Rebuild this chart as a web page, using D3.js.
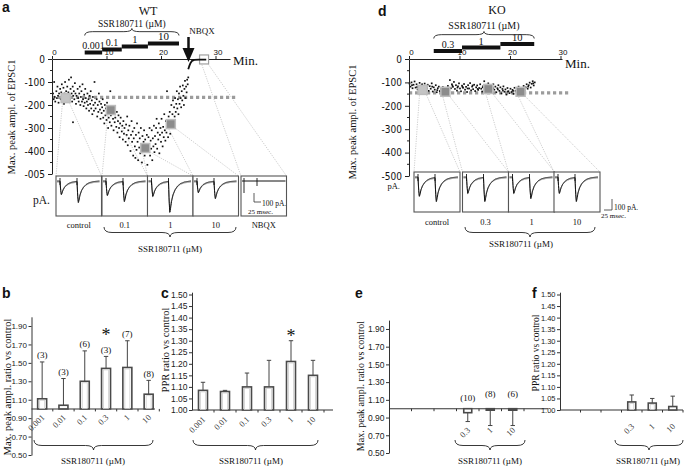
<!DOCTYPE html>
<html>
<head>
<meta charset="utf-8">
<script src="https://cdn.jsdelivr.net/npm/d3@7/dist/d3.min.js"></script>
<style>
html,body{margin:0;padding:0;background:#fff;}
svg{display:block;}
</style>
</head>
<body>
<svg id="chart" width="685" height="466"></svg>
<script>
// ================= DATA =================
const timeTicks = [0, 10, 20, 30];
const ampTicks = [0, -100, -200, -300, -400, -500];
const wtAmpTickLabels = ["0", "-100", "-200", "-300", "-400", "-005"];
const koAmpTickLabels = ["0", "-100", "-200", "-300", "-400", "-500"];

const wtDoseLabels = ["0.001", "0.1", "1", "10"];
const wtDoseStart = [6.0, 9.2, 12.8, 17.6];
const wtDoseEnd = [9.2, 12.8, 17.6, 23.3];
const koDoseLabels = ["0.3", "1", "10"];
const koDoseStart = [4.9, 10.5, 18.1];
const koDoseEnd = [10.5, 18.1, 24.8];

const wtControlLevel = -167;
const koControlLevel = -145;

const wtMeanT = [2.5, 10.8, 17.1, 21.8];
const wtMeanV = [-170, -222, -387, -283];
const wtNbqxMean = [27.9, -2];
const koMeanT = [2.7, 7.2, 15.7, 22.1];
const koMeanV = [-132, -140, -128, -140];

const wtPoints = [
[0.2,-150],[0.3,-175],[0.4,-100],[0.5,-165],[0.6,-185],[0.8,-140],[0.9,-170],[1.0,-120],[1.1,-160],[1.2,-190],[1.3,-150],[1.5,-130],[1.6,-175],[1.7,-145],[1.8,-110],[1.9,-160],
[2.0,-170],[2.1,-125],[2.2,-195],[2.3,-150],[2.4,-100],[2.5,-160],[2.6,-140],[2.7,-180],[2.8,-120],[2.9,-165],[3.0,-145],[3.1,-90],[3.2,-155],[3.3,-175],[3.4,-130],[3.5,-80],[3.6,-150],[3.7,-185],[3.8,-120],[3.9,-160],[4.0,-140],
[4.1,-175],[4.2,-105],[4.3,-150],[4.4,-195],[4.5,-160],[3.85,-275],[4.7,-130],[4.8,-170],[4.9,-185],[5.0,-150],[5.1,-120],[5.2,-200],[5.3,-165],[5.4,-140],[5.5,-185],[5.6,-110],[5.7,-175],[5.8,-205],[5.9,-155],[6.0,-190],
[6.1,-130],[6.2,-170],[6.3,-215],[6.4,-185],[6.5,-150],[6.6,-200],[6.7,-175],[6.8,-225],[6.9,-160],[7.0,-195],[7.1,-140],[7.2,-215],[7.3,-180],[7.4,-240],[7.5,-165],[7.6,-200],[7.7,-225],[7.8,-100],[7.9,-190],[8.0,-215],[8.2,-175],[8.3,-250],[8.4,-200],[8.5,-230],[8.6,-150],[8.7,-185],[8.8,-220],[8.9,-260],[9.0,-195],
[9.1,-235],[9.2,-210],[9.3,-175],[9.4,-255],[9.5,-225],[9.6,-280],[9.7,-200],[9.8,-245],[9.9,-215],[10.0,-265],[10.1,-190],[10.2,-235],[10.3,-300],[10.4,-255],[10.5,-220],[10.6,-275],[10.7,-140],[10.8,-245],[10.9,-290],[11.0,-215],[11.2,-260],[11.3,-310],[11.4,-235],[11.5,-275],[11.6,-255],[11.8,-295],[11.9,-230],
[12.0,-320],[12.1,-270],[12.2,-245],[12.3,-300],[12.4,-340],[12.5,-280],[12.6,-255],[12.8,-315],[12.9,-290],[13.0,-350],[13.1,-270],[13.2,-325],[13.3,-300],[13.5,-360],[13.6,-285],[13.7,-330],[13.8,-250],[13.9,-375],[14.0,-310],[14.1,-345],[14.2,-290],[14.4,-400],[14.5,-330],[14.6,-270],[14.7,-360],[14.8,-315],[14.9,-420],
[15.0,-345],[15.1,-300],[15.2,-380],[15.3,-430],[15.4,-330],[15.5,-395],[15.6,-280],[15.7,-360],[15.8,-440],[15.9,-320],[16.0,-385],[16.1,-345],[16.2,-410],[16.3,-300],[16.4,-370],[16.5,-450],[16.6,-335],[16.7,-395],[16.8,-360],[16.9,-310],[17.0,-420],[17.1,-350],[17.3,-380],[17.4,-330],[17.5,-460],[17.6,-400],[17.7,-340],[17.8,-375],[17.9,-300],[18.0,-420],[18.1,-355],[18.2,-390],[18.3,-310],[18.4,-440],[18.5,-345],[18.6,-380],[18.7,-290],[18.8,-405],[18.9,-335],
[19.0,-370],[19.1,-300],[19.2,-260],[19.3,-390],[19.4,-320],[19.5,-350],[19.6,-280],[19.7,-410],[19.8,-330],[19.9,-300],[20.0,-360],[20.1,-260],[20.2,-320],[20.3,-380],[20.4,-295],[20.5,-340],[20.6,-240],[20.7,-310],[20.8,-355],[20.9,-270],[21.0,-320],[21.1,-140],[21.2,-285],[21.3,-340],[21.4,-250],[21.5,-300],[21.6,-230],[21.7,-325],[21.8,-270],[21.9,-200],
[22.0,-290],[22.1,-240],[22.2,-180],[22.3,-265],[22.4,-210],[22.5,-250],[22.6,-170],[22.7,-230],[22.8,-195],[22.9,-140],[23.0,-215],[23.1,-175],[23.2,-240],[23.3,-150],[23.4,-195],[23.5,-120],[23.6,-170],[23.7,-210],[23.8,-140],[23.9,-180],[24.0,-115],[24.1,-160],[24.2,-200],[24.3,-130],[24.4,-95],[24.5,-170],[24.6,-120],[24.7,-145],[24.8,-90],[24.9,-110],[25.0,-80]
];
const wtNbqxTrace = [[25.0,-45],[25.2,-30],[25.4,-18],[25.7,-8],[26.1,-4],[27.0,-3],[28.3,-3]];

const koPoints = [
[0.1,-105],[0.3,-118],[0.5,-100],[0.7,-125],[0.9,-110],[1.1,-96],[1.3,-122],[1.5,-108],[1.7,-130],[1.9,-115],[2.1,-102],[2.3,-127],[2.5,-112],[2.7,-140],[2.9,-118],[3.1,-105],[3.3,-132],[3.5,-121],[3.7,-110],[3.9,-136],[4.1,-116],[4.3,-127],[4.5,-104],[4.7,-139],[4.9,-121],[5.1,-131],[5.3,-112],[5.5,-142],[5.7,-125],[5.9,-118],[6.1,-137],[6.3,-128],[6.5,-146],[6.7,-120],[6.9,-133],[7.1,-150],[7.3,-127],[7.5,-140],[7.7,-115],[7.9,-132],[8.1,-90],[8.3,-125],[8.5,-108],[8.7,-119],[8.9,-98],[9.1,-128],[9.3,-112],[9.5,-135],[9.7,-117],[9.9,-104],
[10.1,-126],[10.3,-138],[10.5,-114],[10.7,-123],[10.9,-107],[11.1,-131],[11.3,-119],[11.5,-141],[11.7,-112],[11.9,-126],[12.1,-103],[12.3,-134],[12.5,-118],[12.7,-129],[12.9,-110],[13.1,-137],[13.3,-121],[13.5,-113],[13.7,-132],[13.9,-124],[14.1,-108],[14.3,-127],[14.5,-139],[14.7,-116],[14.9,-95],[15.1,-122],[15.3,-110],[15.5,-133],[15.7,-104],[15.9,-126],[16.1,-114],[16.3,-137],[16.5,-120],[16.7,-108],[16.9,-131],[17.1,-118],[17.3,-142],[17.5,-125],[17.7,-112],[17.9,-136],
[18.1,-121],[18.3,-147],[18.5,-128],[18.7,-117],[18.9,-140],[19.1,-130],[19.3,-152],[19.5,-124],[19.7,-138],[19.9,-146],[20.1,-127],[20.3,-141],[20.5,-132],[20.7,-149],[20.9,-123],[21.1,-136],[21.3,-144],[21.5,-129],[21.7,-118],[21.9,-138],[22.1,-126],[22.3,-143],[22.5,-131],[22.7,-115],[22.9,-134],[23.1,-121],[23.3,-108],[23.5,-127],[23.7,-112],[23.9,-101],[24.1,-122],[24.3,-106],[24.5,-95],[24.7,-113],[24.9,-100],
[0.6,-112],[1.6,-120],[2.6,-108],[3.6,-126],[4.6,-118],[5.6,-133],[6.6,-124],[7.6,-131],[8.6,-114],[9.6,-122],[10.6,-119],[11.6,-126],[12.6,-113],[13.6,-128],[14.6,-121],[15.6,-117],[16.6,-125],[17.6,-130],[18.6,-135],[19.6,-139],[20.6,-136],[21.6,-133],[22.6,-124],[23.6,-118],[24.6,-104]
];

// example EPSC traces: peak amplitudes (px) of 1st and 2nd response
const wtTraceLabels = ["control", "0.1", "1", "10", "NBQX"];
const wtPeak1 = [14, 15, 16, 12, 0];
const wtPeak2 = [22, 21, 32, 18, 0];
const koTraceLabels = ["control", "0.3", "1", "10"];
const koPeak1 = [20, 17, 17, 17];
const koPeak2 = [25, 25, 22, 25];
// normalised EPSC waveform template (time in px, amplitude fraction)
const epscTemplateT = [0, 0.6, 1.3, 2, 3, 4.5, 6.5, 9, 12, 16, 22];
const epscTemplateV = [0, -0.6, -1, -0.86, -0.64, -0.44, -0.28, -0.16, -0.08, -0.03, 0];

// bar charts
const doseCats = ["0.001", "0.01", "0.1", "0.3", "1", "10"];
const ratioTicks = [0.50, 0.70, 0.90, 1.10, 1.30, 1.50, 1.70, 1.90];
const pprTicks = [1.00, 1.05, 1.10, 1.15, 1.20, 1.25, 1.30, 1.35, 1.40, 1.45, 1.50];

const bMeans = [1.11, 1.04, 1.30, 1.44, 1.45, 1.16];
const bErr = [0.40, 0.29, 0.33, 0.13, 0.29, 0.15];
const bN = ["(3)", "(3)", "(6)", "(3)", "(7)", "(8)"];
const bStar = [false, false, false, true, false, false];

const cMeans = [1.085, 1.08, 1.10, 1.10, 1.21, 1.15];
const cErr = [0.035, 0.005, 0.06, 0.115, 0.09, 0.065];
const cStar = [false, false, false, false, true, false];

const koCats = ["0.3", "1", "10"];
const eMeans = [0.955, 0.99, 0.99];
const eErr = [0.10, 0.18, 0.18];
const eN = ["(10)", "(8)", "(6)"];
const fMeans = [1.035, 1.03, 1.015];
const fErr = [0.03, 0.02, 0.045];

// ================= DRAWING =================
const SERIF = "'Liberation Serif','Times New Roman',serif";
const SANS = "'Liberation Sans',Arial,sans-serif";
const NARROW = "'Liberation Sans Narrow','DejaVu Sans Condensed','Liberation Sans',sans-serif";
const svg = d3.select("#chart");
svg.append("rect").attr("width", 685).attr("height", 466).attr("fill", "#fff");

function txt(g, x, y, s, o = {}) {
  const t = g.append("text").attr("x", x).attr("y", y).text(s)
    .attr("font-family", o.ff || SERIF).attr("font-size", o.fs || 10)
    .attr("text-anchor", o.anchor || "middle").attr("fill", o.fill || "#111");
  if (o.weight) t.attr("font-weight", o.weight);
  if (o.rot != null) t.attr("transform", `rotate(${o.rot},${x},${y})`);
  return t;
}
function bracePath(x1, x2, y, h) {
  const xm = (x1 + x2) / 2, r = Math.min(8, (x2 - x1) / 6), ym = y + h * 0.55;
  return `M${x1},${y} Q${x1},${ym} ${x1 + r},${ym} L${xm - r},${ym} Q${xm},${ym} ${xm},${y + h} Q${xm},${ym} ${xm + r},${ym} L${x2 - r},${ym} Q${x2},${ym} ${x2},${y}`;
}
function brace(g, x1, x2, y, h) {
  g.append("path").attr("d", bracePath(x1, x2, y, h)).attr("fill", "none").attr("stroke", "#222").attr("stroke-width", 0.9);
}
const tmpl = d3.scaleLinear().domain(epscTemplateT).range(epscTemplateV).clamp(true);
function epsc(dt) { return dt < 0 ? 0 : tmpl(dt); }
function drawTrace(g, bx, by, w, a1, a2, color, sw) {
  const pts = [];
  for (let px = 1; px <= w - 2; px += 0.25) {
    pts.push([bx + px, by - a1 * epsc(px - 4) - a2 * epsc(px - 21)]);
  }
  g.append("path").attr("d", d3.line()(pts)).attr("fill", "none").attr("stroke", color).attr("stroke-width", sw);
}

// ---------- time-course panel ----------
function timeCourse(cfg) {
  const g = svg.append("g");
  const x = d3.scaleLinear().domain([0, cfg.tMax]).range([cfg.x0, cfg.x1]);
  const y = d3.scaleLinear().domain([-500, 0]).range([cfg.yBot, cfg.yTop]);

  const conn = g.append("g").attr("stroke", "#b8b8b8").attr("stroke-width", 0.7).attr("stroke-dasharray", "1.2,1.2");
  cfg.markers.forEach((m, i) => {
    const bx = cfg.boxX[i];
    conn.append("line").attr("x1", x(m[0]) - 3).attr("y1", y(m[1]) + 3).attr("x2", bx).attr("y2", cfg.boxTop);
    conn.append("line").attr("x1", x(m[0]) + 3).attr("y1", y(m[1]) + 3).attr("x2", bx + cfg.boxW).attr("y2", cfg.boxTop);
  });

  g.append("line").attr("x1", x(0)).attr("x2", cfg.dashEnd)
    .attr("y1", y(cfg.level)).attr("y2", y(cfg.level))
    .attr("stroke", "#9c9c9c").attr("stroke-width", 3.2).attr("stroke-dasharray", "3.2,2.8");

  g.append("g").selectAll("rect").data(cfg.points).join("rect")
    .attr("x", d => x(d[0]) - 0.85).attr("y", d => y(d[1]) - 0.85)
    .attr("width", 1.7).attr("height", 1.7).attr("fill", "#111");

  const ya = g.append("g").attr("transform", `translate(${cfg.x0},0)`)
    .call(d3.axisLeft(y).tickValues(ampTicks).tickFormat((d, i) => cfg.ampLabels[i]).tickSize(4).tickSizeOuter(0));
  ya.selectAll("text").attr("font-family", NARROW).attr("font-size", 10).attr("fill", "#111");
  ya.selectAll("line,path").attr("stroke", "#222");
  const minor = [-50, -150, -250, -350, -450];
  g.append("g").selectAll("line").data(minor).join("line")
    .attr("x1", cfg.x0 - 2).attr("x2", cfg.x0).attr("y1", d => y(d)).attr("y2", d => y(d)).attr("stroke", "#222");
  const xa = g.append("g").attr("transform", `translate(0,${cfg.yTop})`)
    .call(d3.axisTop(x).tickValues(timeTicks).tickSize(3).tickSizeOuter(0).tickPadding(1));
  xa.selectAll("text").attr("font-family", SANS).attr("font-size", 8).attr("fill", "#111").attr("dx", 2);
  xa.selectAll("line,path").attr("stroke", "#222");
  txt(g, cfg.x1 + 3, cfg.yTop + cfg.minDy, "Min.", { fs: 13, anchor: "start" });

  txt(g, cfg.yLabelX, cfg.yLabelY, "Max. peak ampl. of EPSC1", { fs: 10.5, rot: -90 });

  cfg.doseStart.forEach((s, i) => {
    const by = cfg.doseY - i * cfg.doseStep;
    g.append("rect").attr("x", x(s)).attr("y", by - 2).attr("width", x(cfg.doseEnd[i]) - x(s)).attr("height", 4).attr("fill", "#111");
    txt(g, (x(s) + x(cfg.doseEnd[i])) / 2, by - cfg.doseLabOff, cfg.doseLabels[i], { fs: cfg.doseFs[i] });
  });
  brace(g, x(cfg.doseStart[0]), x(cfg.doseEnd[cfg.doseEnd.length - 1]), cfg.braceY, -7);
  txt(g, (x(cfg.doseStart[0]) + x(cfg.doseEnd[cfg.doseEnd.length - 1])) / 2, cfg.braceY - cfg.ssrOff, "SSR180711 (\u00b5M)", { fs: cfg.ssrFs });

  cfg.markers.forEach((m, i) => {
    const light = cfg.lightMarker[i];
    g.append("rect").attr("x", x(m[0]) - 4.5).attr("y", y(m[1]) - 4.5).attr("width", 9).attr("height", 9)
      .attr("fill", light === 2 ? "#fff" : (light ? "#c4c4c4" : "#8c8c8c"))
      .attr("stroke", light === 2 ? "#a0a0a0" : "#bdbdbd").attr("stroke-width", light === 2 ? 1.2 : 1.5);
  });

  cfg.boxX.forEach((bx, i) => {
    g.append("rect").attr("x", bx).attr("y", cfg.boxTop).attr("width", cfg.boxW).attr("height", 40)
      .attr("fill", "#fff").attr("stroke", "#555").attr("stroke-width", 1.1);
    const base = cfg.boxTop + 5;
    if (cfg.peak1[i] > 0) {
      drawTrace(g, bx, base + 1, cfg.boxW, cfg.peak1[i] * 0.9, cfg.peak2[i] * 0.88, "#8a8a8a", 1);
      drawTrace(g, bx, base, cfg.boxW, cfg.peak1[i], cfg.peak2[i], "#111", 1);
      [4, 21].forEach(o => g.append("line").attr("x1", bx + o).attr("x2", bx + o).attr("y1", base - 3).attr("y2", base + 4).attr("stroke", "#111").attr("stroke-width", 0.9));
    } else {
      g.append("line").attr("x1", bx + 1).attr("x2", bx + cfg.boxW - 1).attr("y1", base).attr("y2", base).attr("stroke", "#111").attr("stroke-width", 1);
      g.append("line").attr("x1", bx + 3).attr("x2", bx + 3).attr("y1", base - 3).attr("y2", base + 12).attr("stroke", "#111").attr("stroke-width", 0.9);
      g.append("line").attr("x1", bx + 16).attr("x2", bx + 16).attr("y1", base - 3).attr("y2", base + 5).attr("stroke", "#111").attr("stroke-width", 0.9);
    }
    txt(g, bx + cfg.boxW / 2, cfg.labY, cfg.traceLabels[i], { fs: 8.5 });
  });
  return { g, x, y };
}

// ---------- Panel a (WT) ----------
const A = timeCourse({
  x0: 52, x1: 230, tMax: 32.66, yTop: 59, yBot: 174, minDy: 6,
  ampLabels: wtAmpTickLabels, points: wtPoints, level: wtControlLevel, dashEnd: 237,
  markers: wtMeanT.map((t, i) => [t, wtMeanV[i]]).concat([wtNbqxMean]),
  lightMarker: [1, 0, 0, 0, 2],
  boxX: [56, 102, 147.5, 193, 241], boxW: 45.5, boxTop: 176,
  peak1: wtPeak1, peak2: wtPeak2, traceLabels: wtTraceLabels, labY: 228,
  doseStart: wtDoseStart, doseEnd: wtDoseEnd, doseLabels: wtDoseLabels, doseY: 52.5, doseStep: 3, doseLabOff: 4,
  doseFs: [10, 10, 10.5, 11], braceY: 35.5, ssrOff: 8.5, ssrFs: 9.5,
  yLabelX: 15, yLabelY: 117
});
A.g.append("path").attr("d", d3.line().x(d => A.x(d[0])).y(d => A.y(d[1]))(wtNbqxTrace))
  .attr("fill", "none").attr("stroke", "#111").attr("stroke-width", 1.8);
A.g.append("line").attr("x1", 188.5).attr("x2", 188.5).attr("y1", 37).attr("y2", 50).attr("stroke", "#111").attr("stroke-width", 2.5);
A.g.append("path").attr("d", "M182.5,48 L194.5,48 L188.5,62 Z").attr("fill", "#111");
txt(A.g, 202, 34, "NBQX", { fs: 9 });
txt(A.g, 148, 14.5, "WT", { fs: 12 });
txt(A.g, 2, 12, "a", { ff: SANS, fs: 14, weight: "bold", anchor: "start" });
txt(A.g, 50, 204, "pA.", { fs: 11.5, anchor: "end" });
A.g.append("path").attr("d", "M254,193 L254,202 L261,202").attr("fill", "none").attr("stroke", "#333").attr("stroke-width", 0.8);
txt(A.g, 262, 206, "100 pA.", { fs: 7.5, anchor: "start" });
txt(A.g, 248, 214, "25 msec.", { fs: 7, anchor: "start" });
brace(A.g, 104, 236, 227, 10);
txt(A.g, 170, 252, "SSR180711 (\u00b5M)", { fs: 9 });

// ---------- Panel d (KO) ----------
const D = timeCourse({
  x0: 409, x1: 562, tMax: 30.3, yTop: 59, yBot: 176, minDy: 9,
  ampLabels: koAmpTickLabels, points: koPoints, level: koControlLevel, dashEnd: 571,
  markers: koMeanT.map((t, i) => [t, koMeanV[i]]),
  lightMarker: [1, 0, 0, 0],
  boxX: [414, 462.5, 508.5, 554], boxW: 46, boxTop: 172,
  peak1: koPeak1, peak2: koPeak2, traceLabels: koTraceLabels, labY: 225,
  doseStart: koDoseStart, doseEnd: koDoseEnd, doseLabels: koDoseLabels, doseY: 51, doseStep: 3.5, doseLabOff: 3,
  doseFs: [10, 10.5, 10.5], braceY: 38.5, ssrOff: 10, ssrFs: 10,
  yLabelX: 356, yLabelY: 122
});
txt(D.g, 497, 14, "KO", { fs: 12 });
txt(D.g, 378, 16, "d", { ff: SANS, fs: 14, weight: "bold", anchor: "start" });
txt(D.g, 400, 189, "pA.", { fs: 8.5, anchor: "end" });
D.g.append("path").attr("d", "M612,199 L612,210 L604,210").attr("fill", "none").attr("stroke", "#333").attr("stroke-width", 0.8);
txt(D.g, 614, 210, "100 pA.", { fs: 7.5, anchor: "start" });
txt(D.g, 601, 218, "25 msec.", { fs: 7, anchor: "start" });
brace(D.g, 465, 595, 227, 10);
txt(D.g, 521, 247, "SSR180711 (\u00b5M)", { fs: 9 });

// ---------- bar panels ----------
function barPanel(cfg) {
  const g = svg.append("g");
  const y = d3.scaleLinear().domain(cfg.domain).range(cfg.range);
  const xb = d3.scaleBand().domain(doseCats).range([cfg.ax, cfg.ax + cfg.step * 6]);
  const ya = g.append("g").attr("transform", `translate(${cfg.ax},0)`)
    .call(d3.axisLeft(y).tickValues(cfg.ticks).tickFormat(d3.format(".2f")).tickSize(3).tickSizeOuter(0).tickPadding(1.5));
  ya.selectAll("text").attr("font-family", SANS).attr("font-size", cfg.tickFs).attr("fill", "#222");
  ya.selectAll("line,path").attr("stroke", "#333");
  g.append("line").attr("x1", cfg.ax).attr("x2", cfg.xEnd).attr("y1", y(1)).attr("y2", y(1)).attr("stroke", "#333").attr("stroke-width", 1.1);
  g.append("g").selectAll("line").data(doseCats.slice(1).concat(["end"])).join("line")
    .attr("x1", d => d === "end" ? cfg.ax + cfg.step * 6 : xb(d)).attr("x2", d => d === "end" ? cfg.ax + cfg.step * 6 : xb(d))
    .attr("y1", y(1)).attr("y2", y(1) + 2.5).attr("stroke", "#333");
  cfg.cats.forEach((c, i) => {
    const cx = xb(c) + xb.bandwidth() / 2, m = cfg.means[i], e = cfg.err[i];
    const top = Math.min(y(m), y(1)), h = Math.abs(y(m) - y(1));
    const tipV = m >= 1 ? m + e : m - e;
    g.append("line").attr("x1", cx).attr("x2", cx).attr("y1", m >= 1 ? top : top + h).attr("y2", y(tipV)).attr("stroke", "#444").attr("stroke-width", 1);
    g.append("line").attr("x1", cx - 2.2).attr("x2", cx + 2.2).attr("y1", y(tipV)).attr("y2", y(tipV)).attr("stroke", "#444").attr("stroke-width", 1);
    g.append("rect").attr("x", cx - cfg.bw / 2).attr("y", top).attr("width", cfg.bw).attr("height", Math.max(h, 1.5))
      .attr("fill", "#fff").attr("stroke", "#4a4a4a").attr("stroke-width", 1.6);
    if (h > 4) g.append("rect").attr("x", cx - cfg.bw / 2 + 2).attr("y", top + 1.5).attr("width", cfg.bw - 4).attr("height", h - 2)
      .attr("fill", "none").attr("stroke", "#cfcfcf").attr("stroke-width", 0.8);
    if (cfg.n) txt(g, cx, cfg.nY ? cfg.nY(i, y) : y(tipV) - 3.5, cfg.n[i], { fs: 9 });
    if (cfg.star && cfg.star[i]) txt(g, cx, y(tipV) - cfg.starOff, "*", { fs: 18 });
    txt(g, cx + 3, y(1) + cfg.xlabOff, c, { fs: 8.5, anchor: "end", rot: -45, fill: "#333" });
  });
  brace(g, cfg.brace[0], cfg.brace[1], 440, 10);
  txt(g, cfg.ssrX, 464, "SSR180711 (\u00b5M)", { fs: 9 });
  txt(g, cfg.ylx, cfg.yly, cfg.ylabel, { fs: cfg.ylFs, rot: -90 });
  txt(g, cfg.letter[1], 298, cfg.letter[0], { ff: SANS, fs: 14, weight: "bold", anchor: "start" });
  return g;
}

barPanel({
  ax: 31.5, step: 21.3, xEnd: 155, domain: [0.5, 2.0], range: [455, 316.8], ticks: ratioTicks, tickFs: 8,
  cats: doseCats, means: bMeans, err: bErr, n: bN, star: bStar, starOff: 15.5, bw: 9, xlabOff: 9,
  brace: [34, 153], ssrX: 93, ylx: 10.5, yly: 387, ylabel: "Max. peak ampl. ratio vs control", ylFs: 10.5, letter: ["b", 2]
});
barPanel({
  ax: 192, step: 22, xEnd: 333, domain: [1.0, 1.51], range: [410, 292.2], ticks: pprTicks, tickFs: 8.5,
  cats: doseCats, means: cMeans, err: cErr, n: null, star: cStar, starOff: -1, bw: 9, xlabOff: 10,
  brace: [193, 318], ssrX: 251, ylx: 168.5, yly: 350, ylabel: "PPR ratio vs control", ylFs: 10.5, letter: ["c", 161]
});
barPanel({
  ax: 389, step: 22.5, xEnd: 548, domain: [0.5, 2.0], range: [453, 320.1], ticks: ratioTicks, tickFs: 8.5,
  cats: koCats, means: eMeans, err: eErr, n: eN, nY: (i, y) => y(1) - (i === 0 ? 8 : 12), star: null, bw: 8, xlabOff: 22,
  brace: [455, 525], ssrX: 490, ylx: 364, yly: 386, ylabel: "Max. peak ampl. ratio vs control", ylFs: 10, letter: ["e", 355]
});
barPanel({
  ax: 560, step: 20.5, xEnd: 683, domain: [1.0, 1.51], range: [410, 292.2], ticks: pprTicks, tickFs: 7.5,
  cats: koCats, means: fMeans, err: fErr, n: null, star: null, bw: 8, xlabOff: 17,
  brace: [615, 683], ssrX: 648, ylx: 538.5, yly: 353, ylabel: "PPR ratio vs control", ylFs: 9.5, letter: ["f", 532]
});
</script>
</body>
</html>
